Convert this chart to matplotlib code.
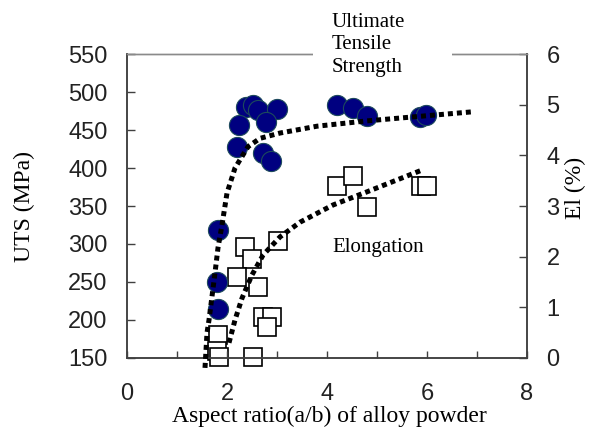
import matplotlib
matplotlib.use('Agg')
import matplotlib.pyplot as plt
from matplotlib.patches import Rectangle

# UTS measurements (left axis)
uts_ratio = [2.38, 2.52, 2.62, 3.0, 2.24, 2.78, 2.2, 2.72, 2.88,
             4.2, 4.52, 4.8, 5.86, 5.98, 1.82, 1.8, 1.82]
uts_mpa = [480, 483, 476, 478, 456, 460, 428, 420, 409,
           483, 479, 468, 467, 470, 318, 250, 214]

# Elongation measurements (right axis)
el_ratio = [2.36, 2.5, 3.02, 2.2, 2.62, 2.72, 2.9, 2.8, 1.82, 1.8, 1.83,
            2.52, 4.2, 4.52, 4.8, 5.88, 6.0]
el_pct = [2.19, 1.95, 2.31, 1.6, 1.4, 0.81, 0.81, 0.61, 0.45, 0.14, 0.02,
          0.02, 3.39, 3.59, 2.98, 3.39, 3.39]

# trend curves
uts_trend_x = [1.56, 1.60, 1.64, 1.76, 1.82, 1.90, 2.00, 2.16, 2.42, 2.66,
               3.06, 3.80, 4.80, 6.92]
uts_trend_y = [137, 183, 200, 262, 295, 325, 367, 400, 428, 439,
               446, 455, 462, 474]
el_trend_x = [2.04, 2.16, 2.30, 2.50, 2.72, 3.06, 3.46, 4.12, 4.80, 5.90]
el_trend_y = [0.30, 0.75, 1.18, 1.64, 2.03, 2.39, 2.68, 3.02, 3.28, 3.71]

x_ticks = [0, 2, 4, 6, 8]
uts_ticks = list(range(150, 551, 50))
el_ticks = list(range(0, 7))

serif = 'Liberation Serif'
sans = 'Liberation Sans'
spine_col = '#404040'

fig = plt.figure(figsize=(5.97, 4.28), dpi=100)
ax = fig.add_axes([127 / 597, 1 - 358 / 428, 400 / 597, 304 / 428])
ax2 = ax.twinx()
ax.set_zorder(ax2.get_zorder() + 1)
ax.patch.set_visible(False)

ax.plot(uts_ratio, uts_mpa, 'o', ms=14.5, mfc='#000080', mec='#1d4a5c',
        mew=0.8, clip_on=False, zorder=2)
ax.plot(uts_trend_x, uts_trend_y, color='black', lw=3.6,
        ls=(0, (1, 0.8)), dash_capstyle='butt', clip_on=False, zorder=3)

ax2.plot(el_ratio, el_pct, 's', ms=13, mfc='white', mec='black',
         mew=1.2, clip_on=False, zorder=2)
ax2.plot(el_trend_x, el_trend_y, color='black', lw=3.6,
         ls=(0, (1, 0.8)), dash_capstyle='butt', zorder=3)

ax.set_xlim(0, 8)
ax.set_ylim(150, 550)
ax2.set_ylim(0, 6)
ax.set_xticks(x_ticks)
ax.set_xticks([1, 3, 5, 7], minor=True)
ax.set_yticks(uts_ticks)
ax2.set_yticks(el_ticks)

ax.tick_params(axis='x', which='both', direction='in', length=5,
               width=1, color=spine_col, pad=18, labelsize=17,
               labelcolor='#222222')
ax.tick_params(axis='y', direction='in', length=6, width=1,
               color=spine_col, pad=14, labelsize=17, labelcolor='#222222')
ax2.tick_params(axis='y', direction='in', length=6, width=1,
                color=spine_col, pad=14, labelsize=17, labelcolor='#222222')
for lab in ax.get_xticklabels() + ax.get_yticklabels() + ax2.get_yticklabels():
    lab.set_family(sans)

for a in (ax, ax2):
    for side in ('left', 'bottom', 'right'):
        a.spines[side].set_color(spine_col)
        a.spines[side].set_linewidth(1.1)
    a.spines['top'].set_color('#8a8a8a')
    a.spines['top'].set_linewidth(1.0)

# white box of the text label breaks the top frame
ax.add_patch(Rectangle((0.465, 0.97), 0.3475, 0.06, transform=ax.transAxes,
                       facecolor='white', edgecolor='none', clip_on=False,
                       zorder=4))
ax.text(0.5125, 1.135, 'Ultimate\nTensile\nStrength', transform=ax.transAxes,
        ha='left', va='top', fontsize=15, family=serif, linespacing=1.25,
        zorder=5)
ax.text(0.5125, 0.349, 'Elongation', transform=ax.transAxes, ha='left',
        va='baseline', fontsize=15, family=serif, zorder=5)

fig.text(329 / 597, 1 - 416 / 428, 'Aspect ratio(a/b) of alloy powder',
         ha='center', va='center', fontsize=17, family=serif)
fig.text(24 / 597, 1 - 206 / 428, 'UTS (MPa)', rotation=90, ha='center',
         va='center', fontsize=17, family=serif)
fig.text(575 / 597, 1 - 188 / 428, 'El (%)', rotation=90, ha='center',
         va='center', fontsize=17, family=serif)

fig.savefig('out.png', dpi=100)
